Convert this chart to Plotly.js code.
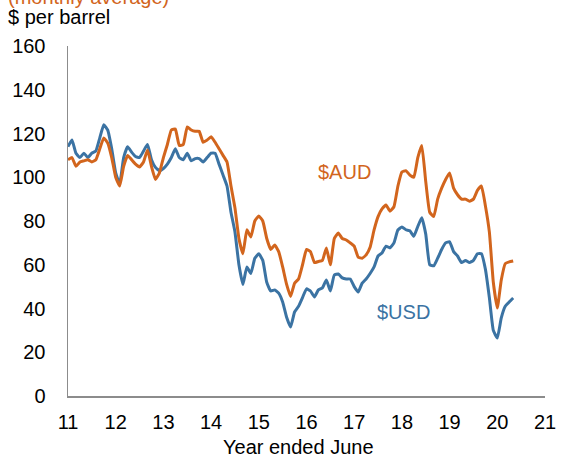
<!DOCTYPE html>
<html>
<head>
<meta charset="utf-8">
<script src="https://cdn.plot.ly/plotly-3.0.1.min.js"></script>
<style>html,body{margin:0;padding:0;background:#fff;}#chart{width:564px;height:457px;}</style>
</head>
<body>
<div id="chart"></div>
<script>
// Monthly averages, $ per barrel, first point at year-ended-June 11
const startYear = 11;
const usd = [114,117,111,109,111,109,111,112,118,124,121.5,113,102,97,109,114,111.5,109.5,109,112,
  115,108,104.5,103,104,106,109,113,109,108,111,107.5,108.5,108.5,107,109,111,111,106,101,
  96,84,75,60,51,59,56,63,65,62,52,48,48.5,47,43,36,31.5,38.4,41,45,
  49,48,45.3,48.5,49.4,53,48,55.3,55.8,54,53.5,53.5,50,47.5,51.6,53.5,56,59,64,65.4,
  68.5,67.7,70,75.9,77.3,76,75.5,73,77.5,81.5,74,60,59.5,63,67,70,70.5,66,64,61,
  62,61,62,65,65,58,45,30,26.5,35.7,41,43,44.8];
const aud = [108,109,105,107,107.5,108,107,108,113,118,115.6,109,100,96,105,110,108,106,104.7,107,
  112.5,105,99,102,109,115,121.6,122,114.5,115,123,121.6,121,121,116,117,118.5,116,113,110,
  107,96,86,72,65,76,72.7,80,82.3,80,72,67,69,66,59,51,45.5,51.6,53.5,60,
  67,66,61,61.5,62,67.7,60,72,74.5,72,71.3,70,68.5,63.5,63,64.5,68,75.9,82,85.5,
  87.3,84.5,86.5,96,102.4,103,101,100,109,114.5,98,84,82,90,95,99,102,95,92,90,
  90,89,90,94,96,87,75,52,40.2,53,60.5,61.3,61.7];
const xTicks = [11,12,13,14,15,16,17,18,19,20,21];
const yTicks = [0,20,40,60,80,100,120,140,160];

const xs = usd.map((_, i) => startYear + i / 12);
const orange = '#D2651D';
const blue = '#3B73A3';
const fam = 'Liberation Sans, Arial, sans-serif';
const font = {family: fam, size: 20, color: '#000'};

const traces = [
  {x: xs, y: usd, type: 'scatter', mode: 'lines', name: '$USD',
   line: {color: blue, width: 3, shape: 'spline', smoothing: 0.4}, hoverinfo: 'skip'},
  {x: xs, y: aud, type: 'scatter', mode: 'lines', name: '$AUD',
   line: {color: orange, width: 3, shape: 'spline', smoothing: 0.4}, hoverinfo: 'skip'}
];

const layout = {
  width: 564, height: 457,
  margin: {l: 68, r: 19, t: 46, b: 61},
  paper_bgcolor: '#fff', plot_bgcolor: '#fff',
  showlegend: false,
  font: font,
  xaxis: {
    range: [11, 21], tickvals: xTicks, ticktext: xTicks.map(String),
    showgrid: false, zeroline: false, showline: true, linecolor: '#8c8c8c', linewidth: 1.5,
    ticks: '', tickfont: font, ticklabelstandoff: 7
  },
  yaxis: {
    range: [0, 160], tickvals: yTicks, showgrid: false, zeroline: false,
    showline: true, linecolor: '#8c8c8c', linewidth: 1.5, ticks: '',
    tickfont: font, ticklabelstandoff: 17
  },
  annotations: [
    {text: 'Year ended June', xref: 'paper', yref: 'paper', x: 0.484, y: 0, yshift: -51,
     xanchor: 'center', yanchor: 'middle', showarrow: false, font: font},
    {text: '$ per barrel', xref: 'paper', yref: 'paper', x: -0.13, y: 1.0, yshift: 16,
     xanchor: 'left', yanchor: 'bottom', showarrow: false, font: font},
    {text: '(monthly average)', xref: 'paper', yref: 'paper', x: -0.13, y: 1.0, yshift: 36,
     xanchor: 'left', yanchor: 'bottom', showarrow: false, font: {family: fam, size: 20, color: orange}},
    {text: '$AUD', xref: 'x', yref: 'y', x: 16.2, y: 102.4, xanchor: 'left', showarrow: false,
     font: {family: fam, size: 20, color: orange}},
    {text: '$USD', xref: 'x', yref: 'y', x: 17.44, y: 38.4, xanchor: 'left', showarrow: false,
     font: {family: fam, size: 20, color: blue}}
  ]
};

Plotly.newPlot('chart', traces, layout, {staticPlot: true, displayModeBar: false});
</script>
</body>
</html>
